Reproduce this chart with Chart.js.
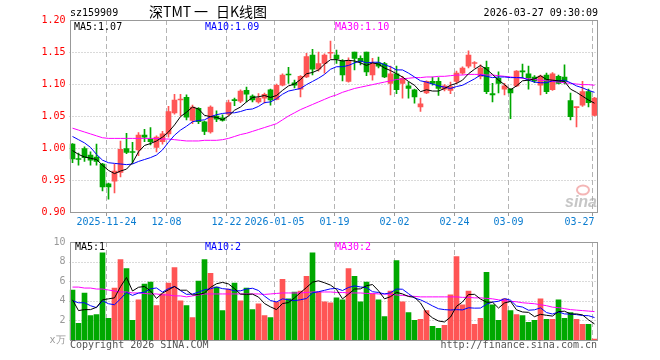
<!DOCTYPE html>
<html><head><meta charset="utf-8">
<script src="https://cdn.jsdelivr.net/npm/chart.js@4"></script>
<style>
html,body{margin:0;padding:0;background:#fff;}
#wrap{position:relative;width:660px;height:360px;background:#fff;}
#c1{position:absolute;left:0;top:0;}
#c2{position:absolute;left:0;top:232px;}
</style></head><body>
<div id="wrap"><canvas id="c1" width="660" height="232"></canvas><canvas id="c2" width="660" height="128"></canvas></div>
<script>
const dates = ['2025-11-14','2025-11-17','2025-11-18','2025-11-19','2025-11-20','2025-11-21','2025-11-24','2025-11-25','2025-11-26','2025-11-27','2025-11-28',
'2025-12-01','2025-12-02','2025-12-03','2025-12-04','2025-12-05','2025-12-08','2025-12-09','2025-12-10','2025-12-11','2025-12-12','2025-12-15','2025-12-16','2025-12-17','2025-12-18','2025-12-19','2025-12-22','2025-12-23','2025-12-24','2025-12-25','2025-12-26','2025-12-29','2025-12-30','2025-12-31',
'2026-01-05','2026-01-06','2026-01-07','2026-01-08','2026-01-09','2026-01-12','2026-01-13','2026-01-14','2026-01-15','2026-01-16','2026-01-19','2026-01-20','2026-01-21','2026-01-22','2026-01-23','2026-01-26','2026-01-27','2026-01-28','2026-01-29','2026-01-30',
'2026-02-02','2026-02-03','2026-02-04','2026-02-05','2026-02-06','2026-02-09','2026-02-10','2026-02-11','2026-02-12','2026-02-13','2026-02-24','2026-02-25','2026-02-26','2026-02-27',
'2026-03-02','2026-03-03','2026-03-04','2026-03-05','2026-03-06','2026-03-09','2026-03-10','2026-03-11','2026-03-12','2026-03-13','2026-03-16','2026-03-17','2026-03-18','2026-03-19','2026-03-20','2026-03-23','2026-03-24','2026-03-25','2026-03-26','2026-03-27'];

const open = [1.006,0.983,0.999,0.989,0.986,0.975,0.944,0.948,0.962,0.999,
0.994,0.997,1.020,1.014,1.001,1.010,1.022,1.055,1.075,1.079,
1.043,1.062,1.041,1.025,1.050,1.047,1.053,1.075,1.073,1.090,
1.081,1.072,1.078,1.091,1.076,1.098,1.115,1.102,1.092,1.111,
1.145,1.123,1.132,1.148,1.145,1.136,1.104,1.150,1.140,1.150,
1.114,1.133,1.132,1.101,1.116,1.101,1.097,1.091,1.064,1.086,
1.104,1.104,1.092,1.090,1.104,1.117,1.128,1.132,1.112,1.126,
1.085,1.109,1.092,1.092,1.097,1.120,1.116,1.111,1.098,1.114,
1.091,1.112,1.111,1.074,1.063,1.067,1.088,1.051];

const high = [1.007,0.992,1.002,0.994,1.006,0.976,0.945,0.975,1.011,1.023,
1.009,1.024,1.029,1.032,1.019,1.026,1.065,1.084,1.084,1.083,
1.067,1.063,1.042,1.066,1.058,1.052,1.075,1.078,1.091,1.095,
1.083,1.085,1.086,1.092,1.100,1.116,1.126,1.106,1.113,1.148,
1.154,1.150,1.147,1.167,1.153,1.138,1.141,1.150,1.144,1.150,
1.140,1.142,1.134,1.128,1.128,1.112,1.103,1.092,1.078,1.105,
1.111,1.110,1.099,1.103,1.120,1.127,1.152,1.135,1.130,1.136,
1.101,1.119,1.101,1.093,1.121,1.131,1.128,1.113,1.114,1.117,
1.118,1.114,1.130,1.086,1.064,1.104,1.092,1.079];

const low = [0.977,0.973,0.979,0.973,0.973,0.933,0.920,0.930,0.955,0.991,
0.976,0.988,1.010,1.005,0.994,1.006,1.017,1.053,1.050,1.044,
1.038,1.038,1.021,1.023,1.041,1.042,1.051,1.066,1.071,1.072,
1.072,1.070,1.070,1.067,1.075,1.097,1.101,1.094,1.080,1.110,
1.114,1.120,1.117,1.140,1.132,1.105,1.103,1.122,1.130,1.113,
1.106,1.125,1.110,1.083,1.085,1.078,1.078,1.070,1.057,1.085,
1.098,1.082,1.089,1.085,1.100,1.115,1.125,1.125,1.108,1.085,
1.072,1.086,1.083,1.046,1.096,1.109,1.092,1.102,1.083,1.085,
1.090,1.100,1.100,1.044,1.033,1.065,1.064,1.050];

const close = [0.983,0.982,0.985,0.981,0.979,0.939,0.939,0.964,0.998,0.993,
0.993,1.020,1.017,1.010,1.017,1.022,1.057,1.075,1.076,1.048,
1.064,1.041,1.026,1.064,1.045,1.043,1.071,1.074,1.089,1.084,
1.075,1.078,1.084,1.075,1.098,1.114,1.114,1.098,1.112,1.143,
1.123,1.132,1.145,1.149,1.139,1.114,1.137,1.140,1.135,1.119,
1.132,1.128,1.111,1.116,1.091,1.109,1.093,1.080,1.069,1.104,
1.101,1.093,1.097,1.096,1.117,1.125,1.145,1.133,1.125,1.088,
1.083,1.101,1.097,1.086,1.120,1.119,1.109,1.105,1.1125,1.088,
1.116,1.101,1.104,1.049,1.064,1.088,1.071,1.078];

const ma5 = [0.996,0.990,0.986,0.984,0.982,0.973,0.965,0.960,0.964,0.967,
0.977,0.994,1.004,1.007,1.011,1.017,1.025,1.036,1.049,1.056,
1.064,1.061,1.051,1.049,1.048,1.044,1.050,1.059,1.064,1.072,
1.079,1.080,1.082,1.079,1.082,1.090,1.097,1.100,1.107,1.116,
1.118,1.122,1.131,1.138,1.138,1.136,1.137,1.136,1.133,1.129,
1.133,1.131,1.125,1.121,1.116,1.111,1.104,1.098,1.088,1.091,
1.089,1.089,1.093,1.098,1.101,1.106,1.116,1.123,1.129,1.123,
1.115,1.106,1.099,1.091,1.097,1.105,1.106,1.108,1.113,1.107,
1.106,1.105,1.104,1.092,1.087,1.081,1.075,1.070];

const ma10 = [1.018,1.013,1.008,1.001,0.990,0.981,0.977,0.976,0.975,0.974,
0.975,0.979,0.982,0.985,0.989,0.997,1.009,1.020,1.028,1.034,
1.041,1.043,1.044,1.049,1.052,1.054,1.055,1.055,1.057,1.060,
1.061,1.065,1.071,1.072,1.077,1.084,1.089,1.091,1.093,1.099,
1.104,1.109,1.115,1.123,1.127,1.127,1.129,1.133,1.136,1.133,
1.134,1.134,1.130,1.127,1.122,1.122,1.117,1.111,1.105,1.103,
1.100,1.097,1.095,1.093,1.096,1.098,1.103,1.108,1.114,1.112,
1.110,1.111,1.111,1.110,1.110,1.110,1.106,1.103,1.102,1.102,
1.105,1.105,1.106,1.102,1.097,1.094,1.090,1.087];

const ma30 = [1.031,1.028,1.025,1.022,1.019,1.016,1.015,1.015,1.015,1.015,
1.015,1.015,1.015,1.015,1.015,1.014,1.014,1.013,1.012,1.011,
1.011,1.011,1.012,1.012,1.012,1.013,1.015,1.018,1.021,1.023,
1.026,1.029,1.032,1.035,1.038,1.044,1.050,1.055,1.060,1.064,
1.068,1.072,1.076,1.080,1.083,1.087,1.090,1.093,1.095,1.097,
1.099,1.101,1.103,1.105,1.107,1.108,1.109,1.110,1.110,1.111,
1.111,1.112,1.112,1.113,1.114,1.114,1.115,1.115,1.115,1.114,
1.114,1.113,1.112,1.111,1.110,1.109,1.108,1.107,1.106,1.105,
1.104,1.103,1.102,1.101,1.100,1.099,1.099,1.098];

const volume = [5.1,1.7,4.8,2.5,2.6,8.9,2.2,5.3,8.2,7.3,
2.0,4.1,5.7,5.9,3.5,4.7,5.8,7.4,4.0,3.5,
2.3,6.0,8.2,6.8,5.4,3.0,5.2,5.8,4.0,5.3,
3.1,3.7,2.5,2.3,3.9,6.2,4.2,4.9,5.0,6.5,
8.9,4.9,3.9,3.8,4.3,4.1,7.3,6.5,3.9,5.9,
4.7,4.1,2.4,5.0,8.1,3.9,2.8,2.0,2.1,3.0,
1.4,1.2,1.5,4.6,8.5,3.6,5.0,1.6,2.2,6.9,
3.6,2.0,4.2,3.0,2.6,2.5,1.8,2.0,4.2,2.1,
2.1,4.1,2.2,2.8,2.1,1.6,1.6,0.1];

const volMa5 = [4.1,3.0,3.1,3.1,3.34,4.10,4.20,4.30,5.44,6.38,
5.00,5.38,5.46,5.00,4.24,4.78,5.12,5.46,5.08,5.08,
4.60,4.64,4.80,5.36,5.74,5.88,5.72,5.24,4.68,4.66,
4.68,4.38,3.72,3.38,3.10,3.72,3.82,4.30,4.84,5.36,
5.90,6.04,5.84,5.60,5.16,4.20,4.68,5.20,5.22,5.54,
5.66,5.02,4.20,4.42,4.86,4.70,4.44,4.36,3.78,2.76,
2.26,1.94,1.84,2.34,3.44,3.88,4.64,4.66,4.18,3.86,
3.86,3.26,3.78,3.94,3.08,2.86,2.82,2.38,2.62,2.52,
2.44,2.90,2.94,2.66,2.66,2.56,2.06,1.64];

const volMa10 = [4.0,3.8,3.8,3.5,3.3,4.0,3.7,3.6,4.2,4.86,
4.55,4.79,4.88,5.22,5.31,4.89,5.25,5.46,5.04,4.66,
4.69,4.88,5.13,5.22,5.41,5.24,5.18,5.02,5.02,5.20,
5.28,5.05,4.48,4.03,3.88,4.20,4.10,4.01,4.11,4.23,
4.81,4.93,5.07,5.22,5.26,5.05,5.36,5.52,5.41,5.35,
4.93,4.85,4.70,4.82,5.20,5.18,4.73,4.28,4.10,3.81,
3.48,3.19,3.10,3.06,3.10,3.07,3.29,3.25,3.26,3.65,
3.87,3.95,4.22,4.06,3.47,3.36,3.04,3.08,3.28,2.80,
2.65,2.86,2.66,2.64,2.59,2.50,2.48,2.29];

const volMa30 = [5.4,5.4,5.3,5.3,5.2,5.2,5.1,5.0,4.9,4.9,
4.8,4.8,4.75,4.7,4.7,4.6,4.6,4.5,4.5,4.4,
4.5,4.6,4.7,4.7,4.7,4.7,4.7,4.7,4.7,4.7,
4.7,4.7,4.65,4.7,4.75,4.8,4.8,4.8,4.8,4.85,
4.9,4.9,4.9,4.9,4.85,4.85,4.8,4.8,4.8,4.75,
4.75,4.7,4.7,4.65,4.6,4.55,4.5,4.45,4.4,4.4,
4.4,4.4,4.4,4.4,4.4,4.35,4.35,4.3,4.3,4.25,
4.2,4.1,4.0,3.95,3.9,3.8,3.75,3.7,3.6,3.5,
3.35,3.3,3.2,3.1,3.05,3.0,2.95,2.9];

const tickIndex = [6,16,26,34,44,54,64,73,87];
const tickText = ['2025-11-24','12-08','12-22','2026-01-05','01-19','02-02','02-24','03-09','03-27'];
const priceGrid = [0.95,1.00,1.05,1.10,1.15];
const volGrid = [2,4,6,8];

const RED = '#ff5555', GREEN = '#00a800';
const colors = close.map((c,i)=> c >= open[i] ? RED : GREEN);
const MONO = '"DejaVu Sans Mono", monospace';

function slotLeft(x, i){
  const w = x.getPixelForValue(1) - x.getPixelForValue(0);
  return Math.round(x.getPixelForValue(i) - w/2) + 0.5;
}
function drawGrid(chart, hVals){
  const {ctx, chartArea:a, scales:{x,y}} = chart;
  ctx.save();
  ctx.strokeStyle = '#b4b4b4'; ctx.lineWidth = 1;
  ctx.setLineDash([1,2]);
  hVals.forEach(v=>{
    const py = Math.round(y.getPixelForValue(v)) + 0.5;
    ctx.beginPath(); ctx.moveTo(a.left, py); ctx.lineTo(a.right, py); ctx.stroke();
  });
  ctx.setLineDash([5,3]);
  tickIndex.forEach(i=>{
    const px = slotLeft(x, i);
    ctx.beginPath(); ctx.moveTo(px, a.top); ctx.lineTo(px, a.bottom); ctx.stroke();
  });
  ctx.restore();
}
function drawBorder(chart){
  const {ctx, chartArea:a} = chart;
  ctx.save();
  ctx.strokeStyle = '#999'; ctx.lineWidth = 1; ctx.setLineDash([]);
  const l = Math.round(a.left)+0.5, r = Math.round(a.right)-0.5, t = Math.round(a.top)+0.5, b = Math.round(a.bottom)+0.5;
  ctx.strokeRect(l, t, r-l, b-t);
  ctx.restore();
}

const pricePanel = {
  id:'pricePanel',
  beforeDatasetsDraw(chart){ drawGrid(chart, priceGrid); },
  afterDatasetsDraw(chart){
    const {ctx, chartArea:a, scales:{x}} = chart;
    ctx.save();
    ctx.strokeStyle = 'rgba(235,120,120,0.55)'; ctx.lineWidth = 2;
    ctx.beginPath(); ctx.ellipse(583, 190, 6, 4.5, 0, 0, Math.PI*2); ctx.stroke();
    ctx.fillStyle = 'rgba(160,160,160,0.6)';
    ctx.font = 'italic bold 16px "Liberation Sans"';
    ctx.textBaseline = 'alphabetic'; ctx.textAlign = 'left';
    ctx.fillText('sina', 565, 207);
    ctx.restore();
    drawBorder(chart);
    ctx.save();
    ctx.strokeStyle = '#999'; ctx.lineWidth = 1;
    tickIndex.forEach(i=>{
      const px = slotLeft(x, i);
      ctx.beginPath(); ctx.moveTo(px, a.bottom); ctx.lineTo(px, a.bottom+4); ctx.stroke();
    });
    ctx.font = '10px ' + MONO; ctx.fillStyle = '#0a7cd0'; ctx.textBaseline = 'middle';
    tickIndex.forEach((i,k)=>{
      const px = slotLeft(x, i);
      if (k === tickIndex.length-1) { ctx.textAlign = 'right'; ctx.fillText(tickText[k], a.right-3, 222.5); }
      else { ctx.textAlign = 'center'; ctx.fillText(tickText[k], px, 222.5); }
    });
    ctx.textAlign = 'left'; ctx.fillStyle = '#000';
    ctx.fillText('sz159909', 70, 13);
    ctx.font = '14px "Noto Sans CJK SC"';
    ctx.fillText('深TMT', 149, 12);
    ctx.fillText('一', 194, 12);
    ctx.fillText('日K线图', 216, 12);
    ctx.font = '10px ' + MONO; ctx.textAlign = 'right';
    ctx.fillText(dates[dates.length-1] + ' 09:30:09', 598, 13);
    ctx.textAlign = 'left';
    ctx.fillStyle = '#000'; ctx.fillText('MA5:' + ma5[ma5.length-1].toFixed(2), 74, 27);
    ctx.fillStyle = '#0000ff'; ctx.fillText('MA10:' + ma10[ma10.length-1].toFixed(2), 205, 27);
    ctx.fillStyle = '#ff00ff'; ctx.fillText('MA30:' + ma30[ma30.length-1].toFixed(2), 335, 27);
    ctx.restore();
  }
};

const volPanel = {
  id:'volPanel',
  beforeDatasetsDraw(chart){ drawGrid(chart, volGrid); },
  afterDatasetsDraw(chart){
    const {ctx} = chart;
    drawBorder(chart);
    ctx.save();
    ctx.font = '10px ' + MONO; ctx.textBaseline = 'middle'; ctx.textAlign = 'left';
    const n = volume.length-1;
    ctx.fillStyle = '#000'; ctx.fillText('MA5:' + Math.floor(volMa5[n]), 75, 15);
    ctx.fillStyle = '#0000ff'; ctx.fillText('MA10:' + Math.floor(volMa10[n]), 205, 15);
    ctx.fillStyle = '#ff00ff'; ctx.fillText('MA30:' + Math.floor(volMa30[n]), 335, 15);
    ctx.fillStyle = '#555';
    ctx.fillText('Copyright 2026 SINA.COM', 70, 113);
    ctx.textAlign = 'right';
    ctx.fillText('http://finance.sina.com.cn', 597, 113);
    ctx.restore();
  }
};

function lineDs(data, color){
  return {type:'line', data, borderColor:color, borderWidth:1, pointRadius:0, tension:0, order:0, fill:false};
}

new Chart(document.getElementById('c1'), {
  type:'bar',
  data:{
    labels: dates,
    datasets:[
      lineDs(ma5,'#000000'),
      lineDs(ma10,'#0000ff'),
      lineDs(ma30,'#ff00ff'),
      {type:'bar', data: open.map((o,i)=>[Math.min(o,close[i]), Math.max(o,close[i])]), backgroundColor: colors, barThickness:5, minBarLength:1, grouped:false, order:1},
      {type:'bar', data: low.map((l,i)=>[l, high[i]]), backgroundColor: colors, barThickness:1, grouped:false, order:2}
    ]
  },
  options:{
    responsive:false, animation:false, devicePixelRatio:1,
    layout:{padding:{left:0,right:62.5,top:20,bottom:20}},
    plugins:{legend:{display:false}, tooltip:{enabled:false}},
    scales:{
      x:{type:'category', display:false, offset:true, grid:{display:false}},
      y:{min:0.9, max:1.2, afterFit(s){ s.width = 69.5; },
         grid:{display:false, drawTicks:false}, border:{display:false},
         ticks:{stepSize:0.05, color:'#ff0000', padding:4, font:{family:'DejaVu Sans Mono', size:10}, callback:v=>Number(v).toFixed(2)}}
    }
  },
  plugins:[pricePanel]
});

new Chart(document.getElementById('c2'), {
  type:'bar',
  data:{
    labels: dates,
    datasets:[
      lineDs(volMa5,'#000000'),
      lineDs(volMa10,'#0000ff'),
      lineDs(volMa30,'#ff00ff'),
      {type:'bar', data: volume, backgroundColor: colors, barThickness:5, grouped:false, order:1}
    ]
  },
  options:{
    responsive:false, animation:false, devicePixelRatio:1,
    layout:{padding:{left:0,right:62.5,top:8,bottom:20}},
    plugins:{legend:{display:false}, tooltip:{enabled:false}},
    scales:{
      x:{type:'category', display:false, offset:true, grid:{display:false}},
      y:{min:0, max:10, afterFit(s){ s.width = 69.5; },
         grid:{display:false, drawTicks:false}, border:{display:false},
         ticks:{stepSize:2, color:'#999', padding:4, font:{family:'DejaVu Sans Mono', size:10}, callback:v=> v===0 ? 'x万' : String(v)}}
    }
  },
  plugins:[volPanel]
});
</script>
</body></html>
